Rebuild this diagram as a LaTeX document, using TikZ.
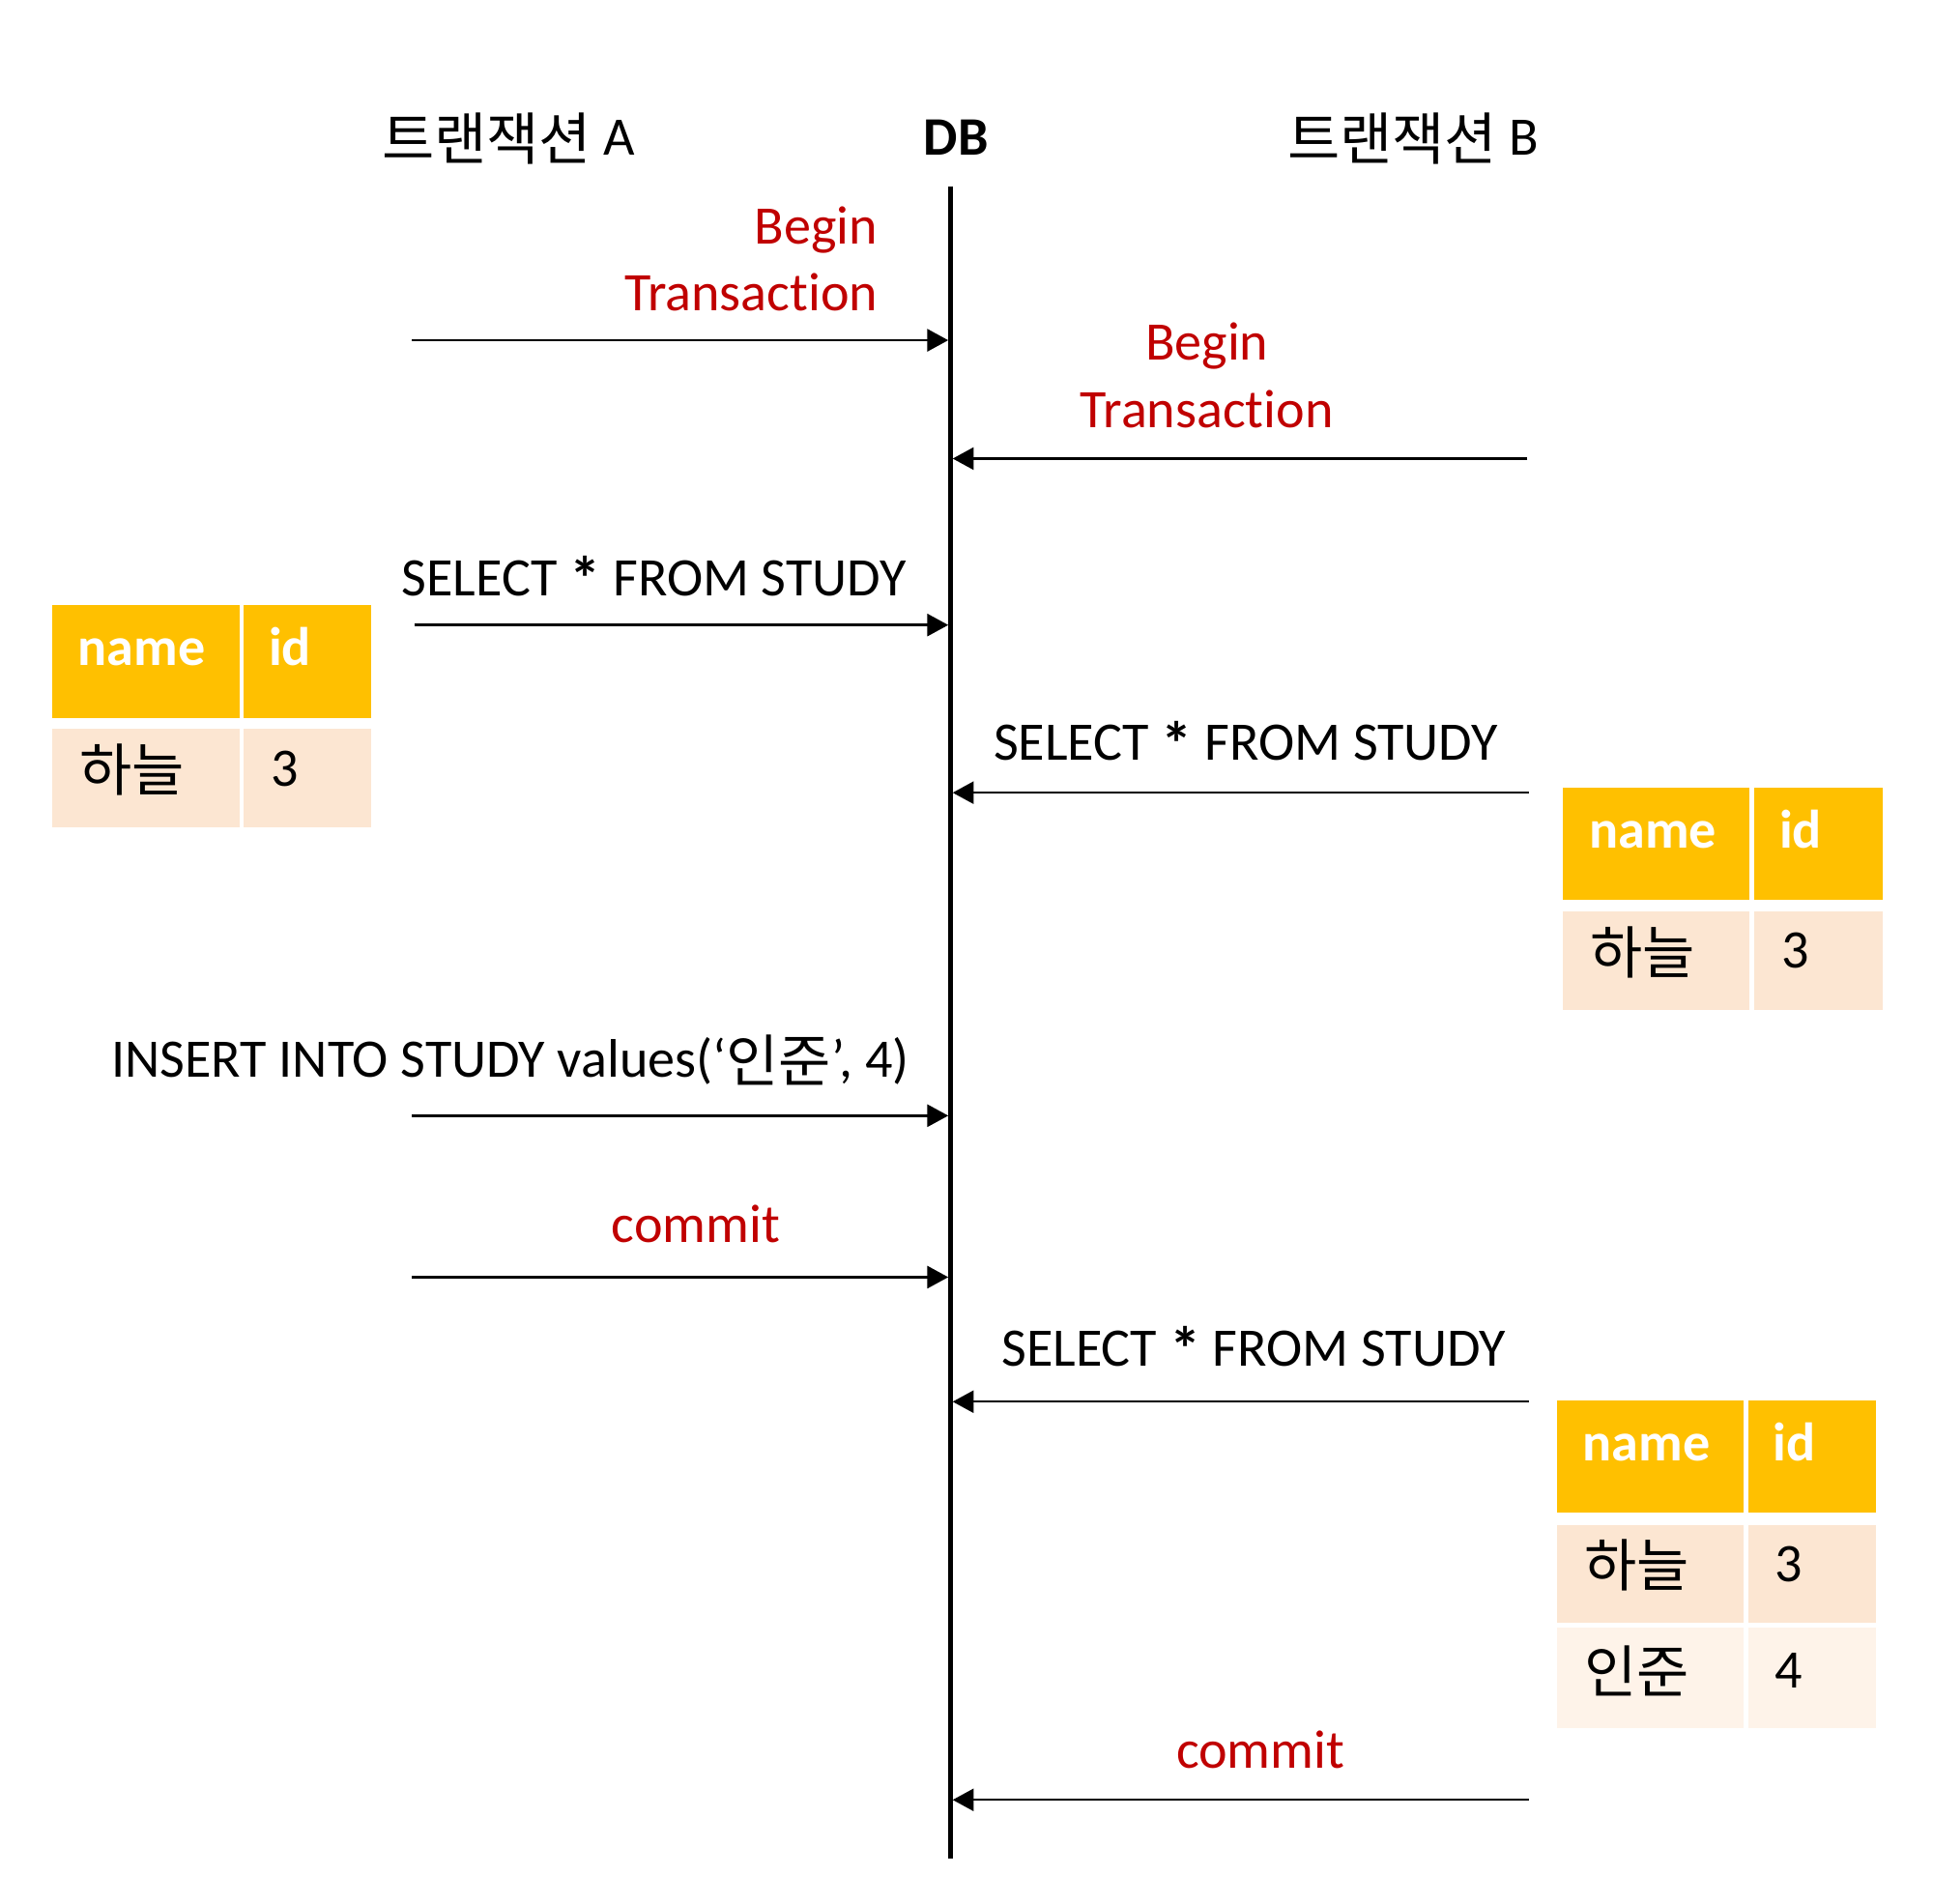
\documentclass[tikz,border=0pt]{standalone}
\usepackage{fontspec}
\setmainfont{Carlito}[Ligatures=NoCommon]
\newfontfamily\krfont[Scale=1.05]{Noto Sans CJK KR}
\usetikzlibrary{arrows.meta}
\definecolor{hdrcol}{HTML}{FFC000}
\definecolor{rowA}{HTML}{FCE6D2}
\definecolor{rowB}{HTML}{FEF3E9}
\definecolor{redtxt}{HTML}{C00000}
\newcommand\hangul[1]{\raisebox{-4pt}{\krfont #1}}
\newcommand\astr{\raisebox{-4pt}{\scalebox{1.15}{\bfseries *}}}
\tikzset{
  txt/.style={font=\fontsize{44}{52}\selectfont, inner sep=0pt, outer sep=0pt, anchor=base},
  redlbl/.style={txt, text=redtxt},
  msg/.style={line width=1.9pt, -{Triangle[length=17pt,width=18pt]}},
  dbline/.style={line width=3.6pt},
  cell/.style={draw=none, inner sep=0pt, outer sep=0pt, anchor=north west},
  hcell/.style={cell, fill=hdrcol},
  r1cell/.style={cell, fill=rowA},
  r2cell/.style={cell, fill=rowB},
  htxt/.style={txt, anchor=base west, text=white, font=\fontsize{44}{52}\selectfont\bfseries},
  ctxt/.style={txt, anchor=base west},
}
\begin{document}
\begin{tikzpicture}[x=1pt,y=-1pt]
\useasboundingbox (0,0) rectangle (1568,1544);

% participants
\node[txt] (trA) at (412.5,126) {\hangul{트랜잭션} A};
\node[txt, font=\fontsize{44}{52}\selectfont\bfseries] (db) at (775.5,126) {DB};
\node[txt] (trB) at (1146.5,126) {\hangul{트랜잭션} B};

% DB lifeline
\coordinate (dbtop) at (771,151);
\coordinate (dbbot) at (771,1508);
\draw[dbline] (dbtop) -- (dbbot);

% message end points
\coordinate (a1) at (334,276);   \coordinate (d1) at (769.2,276);
\coordinate (b2) at (1239,372);  \coordinate (d2) at (772.8,372);
\coordinate (a3) at (336,507);   \coordinate (d3) at (769.2,507);
\coordinate (b4) at (1240,643);  \coordinate (d4) at (772.8,643);
\coordinate (a5) at (334,905);   \coordinate (d5) at (769.2,905);
\coordinate (a6) at (334,1036);  \coordinate (d6) at (769.2,1036);
\coordinate (b7) at (1240,1137); \coordinate (d7) at (772.8,1137);
\coordinate (b8) at (1240,1460); \coordinate (d8) at (772.8,1460);

\draw[msg] (a1) -- (d1);
\draw[msg] (b2) -- (d2);
\draw[msg] (a3) -- (d3);
\draw[msg] (b4) -- (d4);
\draw[msg] (a5) -- (d5);
\draw[msg] (a6) -- (d6);
\draw[msg] (b7) -- (d7);
\draw[msg] (b8) -- (d8);

% labels
\node[redlbl, anchor=base east] (l1a) at (712,198) {Begin};
\node[redlbl, anchor=base east] (l1b) at (712,252) {Transaction};
\node[redlbl] (l2a) at (979,292) {Begin};
\node[redlbl] (l2b) at (979,347) {Transaction};
\node[txt] (l3) at (530.5,483) {SELECT \astr{} FROM STUDY};
\node[txt] (l4) at (1010.5,617) {SELECT \astr{} FROM STUDY};
\node[txt] (l5) at (414,874) {INSERT INTO STUDY values(‘\hangul{인준}’, 4)};
\node[redlbl] (l6) at (564.5,1008) {commit};
\node[txt] (l7) at (1017,1108) {SELECT \astr{} FROM STUDY};
\node[redlbl] (l8) at (1022.5,1434) {commit};

% table A
\begin{scope}[shift={(42.3,490.8)}]
  \node[hcell, minimum width=152.2pt, minimum height=91.7pt] (tAh1) at (0,0) {};
  \node[hcell, minimum width=103.4pt, minimum height=91.7pt] (tAh2) at (155.3,0) {};
  \node[r1cell, minimum width=152.2pt, minimum height=80pt] (tAr1) at (0,100.2) {};
  \node[r1cell, minimum width=103.4pt, minimum height=80pt] (tAr2) at (155.3,100.2) {};
  \node[htxt] (tAn) at (21,49) {name};
  \node[htxt] (tAi) at (175.7,49) {id};
  \node[ctxt] (tAv1) at (22,147) {\hangul{하늘}};
  \node[ctxt] (tAv2) at (177.3,147) {3};
\end{scope}

% table B1
\begin{scope}[shift={(1268,639)}]
  \node[hcell, minimum width=151pt, minimum height=91pt] (tBh1) at (0,0) {};
  \node[hcell, minimum width=104pt, minimum height=91pt] (tBh2) at (155,0) {};
  \node[r1cell, minimum width=151pt, minimum height=80pt] (tBr1) at (0,100) {};
  \node[r1cell, minimum width=104pt, minimum height=80pt] (tBr2) at (155,100) {};
  \node[htxt] (tBn) at (21,49) {name};
  \node[htxt] (tBi) at (175.4,49) {id};
  \node[ctxt] (tBv1) at (22,146.5) {\hangul{하늘}};
  \node[ctxt] (tBv2) at (177,146.5) {3};
\end{scope}

% table B2
\begin{scope}[shift={(1263,1136)}]
  \node[hcell, minimum width=151pt, minimum height=91pt] (tCh1) at (0,0) {};
  \node[hcell, minimum width=104pt, minimum height=91pt] (tCh2) at (155,0) {};
  \node[r1cell, minimum width=151pt, minimum height=79pt] (tCr1) at (0,101) {};
  \node[r1cell, minimum width=104pt, minimum height=79pt] (tCr2) at (155,101) {};
  \node[r2cell, minimum width=151pt, minimum height=82pt] (tCs1) at (0,184) {};
  \node[r2cell, minimum width=104pt, minimum height=82pt] (tCs2) at (155,184) {};
  \node[htxt] (tCn) at (21,49) {name};
  \node[htxt] (tCi) at (175.4,49) {id};
  \node[ctxt] (tCv1) at (22,147) {\hangul{하늘}};
  \node[ctxt] (tCv2) at (177,147) {3};
  \node[ctxt] (tCw1) at (22,233) {\hangul{인준}};
  \node[ctxt] (tCw2) at (177,233) {4};
\end{scope}
\end{tikzpicture}
\end{document}
